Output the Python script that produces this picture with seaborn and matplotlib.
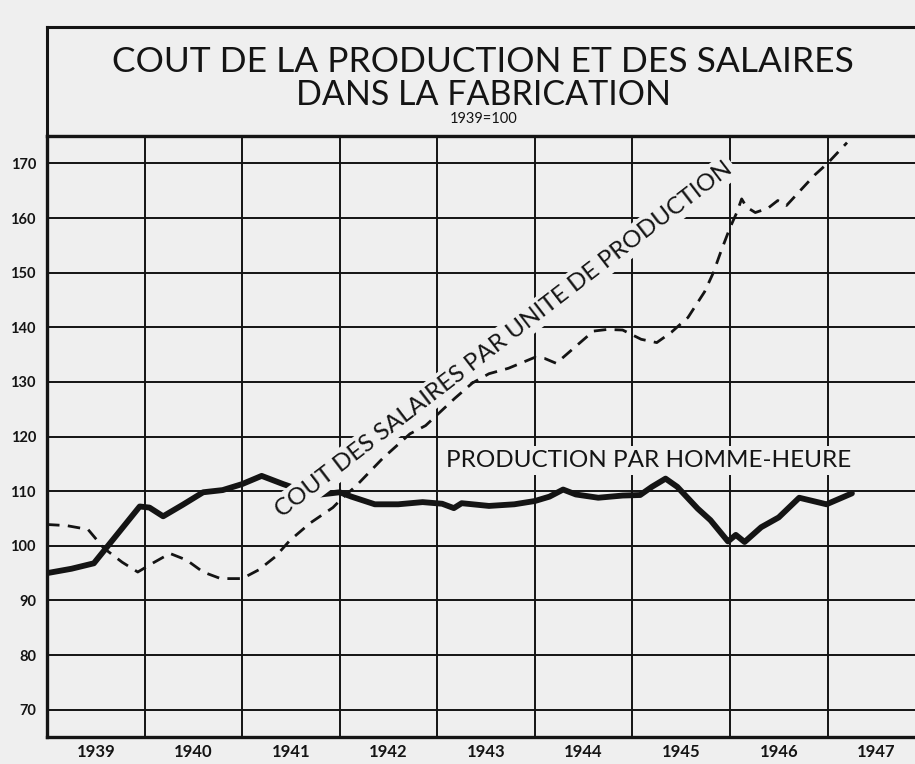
import pandas as pd
import matplotlib
matplotlib.use("Agg")
import matplotlib.pyplot as plt
import seaborn as sns

# valeurs (1939 = 100)
annees_prod = [1939.0, 1939.25, 1939.48, 1939.95, 1940.05, 1940.19, 1940.39, 1940.6, 1940.8,
               1941.0, 1941.2, 1941.42, 1941.6, 1941.76, 1942.0, 1942.12, 1942.36, 1942.6,
               1942.85, 1943.05, 1943.17, 1943.25, 1943.53, 1943.79, 1944.0, 1944.15, 1944.29,
               1944.42, 1944.65, 1944.9, 1945.08, 1945.2, 1945.34, 1945.46, 1945.67, 1945.8,
               1945.98, 1946.06, 1946.15, 1946.32, 1946.5, 1946.71, 1946.99, 1947.25]
prod_homme_heure = [95.0, 95.8, 96.8, 107.2, 107.0, 105.4, 107.5, 109.8, 110.2,
                    111.3, 112.8, 111.3, 110.2, 109.3, 109.8, 109.0, 107.6, 107.6,
                    108.0, 107.7, 106.9, 107.8, 107.3, 107.6, 108.2, 109.0, 110.3,
                    109.4, 108.8, 109.2, 109.3, 110.8, 112.3, 110.8, 106.8, 104.7,
                    100.8, 102.0, 100.7, 103.4, 105.2, 108.8, 107.6, 109.6]

annees_cout = [1939.0, 1939.2, 1939.42, 1939.58, 1939.77, 1939.93, 1940.08, 1940.26, 1940.43,
               1940.6, 1940.78, 1941.0, 1941.17, 1941.34, 1941.49, 1941.7, 1941.93, 1942.03,
               1942.17, 1942.44, 1942.72, 1942.88, 1943.0, 1943.18, 1943.36, 1943.53, 1943.73,
               1944.0, 1944.1, 1944.22, 1944.4, 1944.6, 1944.74, 1944.9, 1945.09, 1945.25,
               1945.4, 1945.57, 1945.74, 1945.83, 1945.91, 1946.0, 1946.07, 1946.12, 1946.17,
               1946.26, 1946.39, 1946.49, 1946.58, 1946.73, 1946.87, 1947.0, 1947.2]
cout_salaires = [103.9, 103.7, 103.0, 99.6, 97.0, 95.2, 96.8, 98.6, 97.4,
                 95.2, 94.0, 94.0, 95.6, 98.0, 101.0, 104.2, 107.0, 108.8,
                 111.0, 116.0, 120.5, 122.0, 124.0, 127.0, 129.8, 131.5, 132.5,
                 134.5, 134.3, 133.4, 136.2, 139.3, 139.6, 139.5, 137.8, 137.2,
                 139.1, 141.8, 146.5, 150.0, 154.0, 158.2, 161.0, 163.5, 162.0,
                 161.0, 161.8, 163.2, 162.3, 165.2, 167.9, 170.0, 173.8]

annees = [1939, 1940, 1941, 1942, 1943, 1944, 1945, 1946, 1947]
graduations_y = [70, 80, 90, 100, 110, 120, 130, 140, 150, 160, 170]

titre_1 = "COUT DE LA PRODUCTION ET DES SALAIRES"
titre_2 = "DANS LA FABRICATION"
sous_titre = "1939=100"
label_prod = "PRODUCTION PAR HOMME-HEURE"
label_cout = "COUT DES SALAIRES PAR UNITE DE PRODUCTION"

df_prod = pd.DataFrame({"annee": annees_prod, "indice": prod_homme_heure})
df_cout = pd.DataFrame({"annee": annees_cout, "indice": cout_salaires})

sns.set_style("white")
plt.rcParams['font.family'] = ['Lato', 'DejaVu Sans']

fond = "#efefef"
encre = "#141414"

fig = plt.figure(figsize=(9.15, 7.64), dpi=100, facecolor=fond)

# cadre du titre
ax_t = fig.add_axes([0.0514, 0.822, 0.9596, 0.1427], facecolor=fond)
ax_t.set_xticks([])
ax_t.set_yticks([])
for s in ax_t.spines.values():
    s.set_linewidth(2.2)
    s.set_color(encre)
ax_t.text(0.497, 0.68, titre_1, transform=ax_t.transAxes, ha="center", va="center",
          fontsize=25.5, color=encre)
ax_t.text(0.497, 0.38, titre_2, transform=ax_t.transAxes, ha="center", va="center",
          fontsize=24.5, color=encre)
ax_t.text(0.497, 0.16, sous_titre, transform=ax_t.transAxes, ha="center", va="center",
          fontsize=10.5, color=encre)

# graphique principal
ax = fig.add_axes([0.0514, 0.0353, 0.9596, 0.7866], facecolor=fond)

sns.lineplot(data=df_prod, x="annee", y="indice", ax=ax, color=encre, linewidth=4.2,
             sort=False, zorder=3)
sns.lineplot(data=df_cout, x="annee", y="indice", ax=ax, color=encre, linewidth=2.0,
             sort=False, zorder=5)
ax.lines[-1].set_dashes((4.5, 3))

ax.set_xlim(1939, 1948)
ax.set_ylim(65, 175)

ax.set_yticks(graduations_y)
ax.set_yticklabels([str(v) for v in graduations_y], fontsize=10.5, fontweight="bold", color=encre)
ax.set_xticks([a + 0.5 for a in annees])
ax.set_xticklabels([str(a) for a in annees], fontsize=12, fontweight="bold", color=encre)
ax.set_xticks(annees[1:], minor=True)
ax.tick_params(axis="both", which="both", length=0)
ax.tick_params(axis="y", pad=8)
ax.tick_params(axis="x", pad=5)

ax.grid(False)
ax.grid(axis="y", which="major", color=encre, linewidth=1.4)
ax.grid(axis="x", which="minor", color=encre, linewidth=1.4)
ax.set_axisbelow(True)
ax.set_xlabel("")
ax.set_ylabel("")
for s in ax.spines.values():
    s.set_linewidth(2.4)
    s.set_color(encre)

boite = dict(boxstyle="square,pad=0.15", facecolor=fond, edgecolor="none")
ax.text(1945.17, 115.6, label_prod, ha="center", va="center", fontsize=17.5,
        color=encre, bbox=boite, zorder=4)
ax.text(1943.68, 137.8, label_cout, ha="center", va="center", fontsize=17.5,
        color=encre, rotation=37.5, rotation_mode="anchor", bbox=boite, zorder=4)

fig.savefig("out.png", dpi=100, facecolor=fond)
